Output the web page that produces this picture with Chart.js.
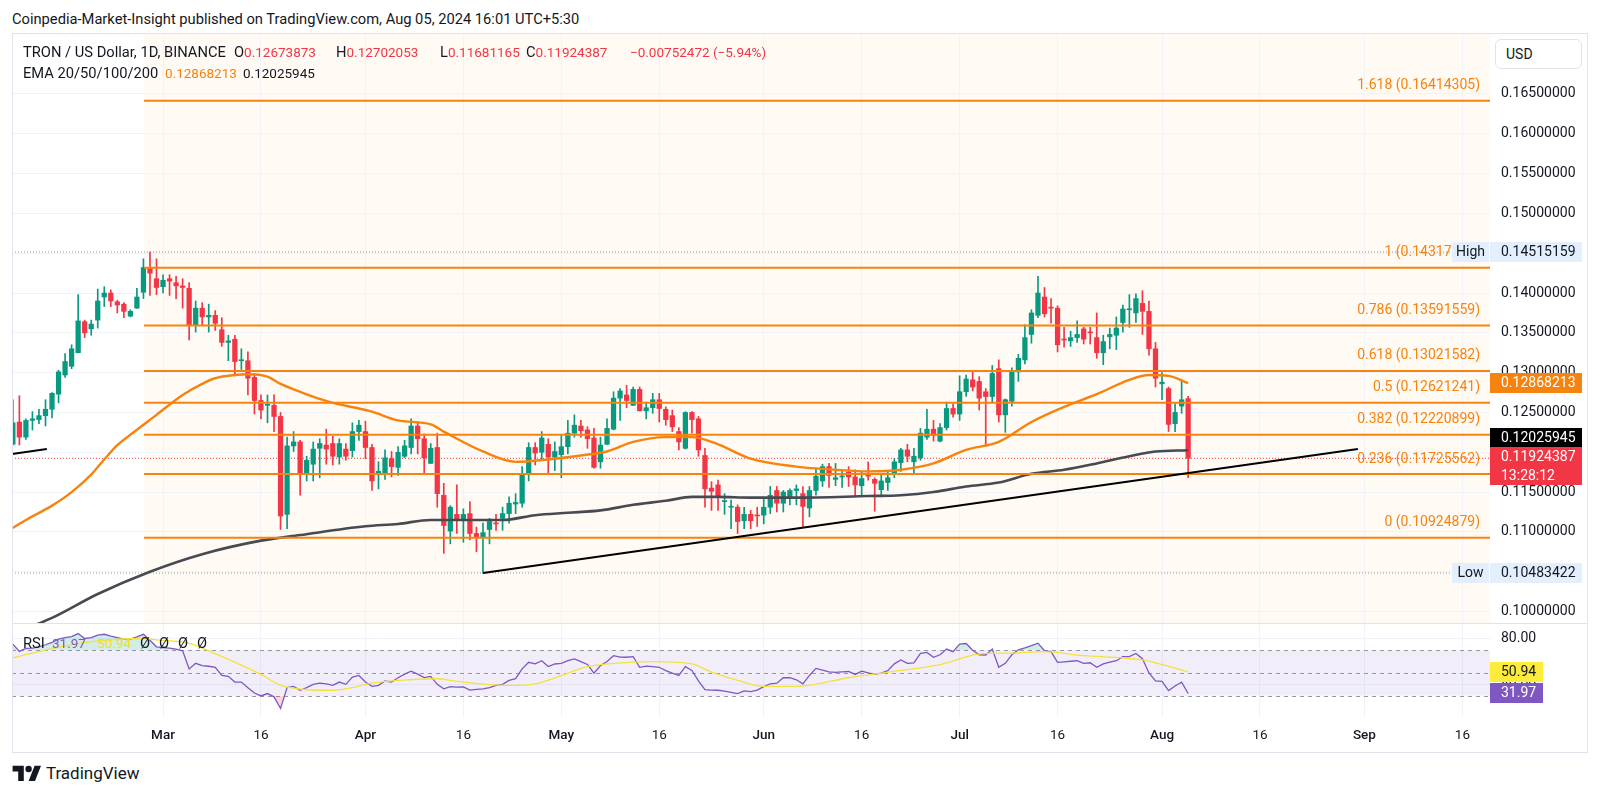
<!DOCTYPE html>
<html>
<head>
<meta charset="utf-8">
<script src="https://cdn.jsdelivr.net/npm/chart.js@4.4.1/dist/chart.umd.min.js"></script>
<style>
  body { margin: 0; width: 1600px; height: 795px; background: #fff; position: relative; overflow: hidden;
         font-family: Roboto, "Noto Sans", sans-serif; color: #131722; }
  .t { position: absolute; white-space: nowrap; line-height: 16px; font-size: 14.7px; z-index: 6; }
  .n { font-size: 13.5px; }
  #frame { position: absolute; left: 12px; top: 33px; width: 1576px; height: 720px; box-sizing: border-box;
           border: 1px solid #e0e3eb; pointer-events: none; z-index: 5; }
  #sep { position: absolute; left: 12px; top: 623px; width: 1576px; height: 1px; background: #e0e3eb; z-index: 5; }
  #priceCv { position: absolute; left: 12px; top: 34px; }
  #rsiCv { position: absolute; left: 12px; top: 624px; }
  .red { color: #f23645; }
  .org { color: #f7830f; }
  #usd { position: absolute; left: 1495px; top: 39px; width: 87px; height: 30px; box-sizing: border-box;
         border: 1px solid #e0e3eb; border-radius: 6px; background: #fff; font-size: 14px; line-height: 28px;
         padding-left: 10px; z-index: 6; }
</style>
</head>
<body>
<div class="t" style="left:12px;top:11px;">Coinpedia-Market-Insight published on TradingView.com, Aug 05, 2024 16:01 UTC+5:30</div>
<canvas id="priceCv" width="1575" height="589"></canvas>
<canvas id="rsiCv" width="1575" height="128"></canvas>
<div id="frame"></div>
<div id="sep"></div>
<div id="usd">USD</div>
<div class="t" style="left:23px;top:44px;">TRON / US Dollar, 1D, BINANCE</div>
<div class="t" style="left:234px;top:44px;">O<span class="red n">0.12673873</span></div>
<div class="t" style="left:336px;top:44px;">H<span class="red n">0.12702053</span></div>
<div class="t" style="left:440px;top:44px;">L<span class="red n">0.11681165</span></div>
<div class="t" style="left:526px;top:44px;">C<span class="red n">0.11924387</span></div>
<div class="t red n" style="left:630px;top:44px;">−0.00752472 (−5.94%)</div>
<div class="t" style="left:23px;top:65px;">EMA 20/50/100/200</div>
<div class="t org n" style="left:165px;top:65px;">0.12868213</div>
<div class="t n" style="left:243px;top:65px;">0.12025945</div>
<div class="t" style="left:23px;top:635px;">RSI</div>
<div class="t n" style="left:52px;top:635px;color:#7e57c2">31.97</div>
<div class="t n" style="left:97px;top:635px;color:#f2dc2e">50.94</div>
<div class="t" style="left:140px;top:635px;">Ø</div>
<div class="t" style="left:159px;top:635px;">Ø</div>
<div class="t" style="left:178px;top:635px;">Ø</div>
<div class="t" style="left:197px;top:635px;">Ø</div>
<div class="t" style="left:12px;top:764px;font-size:17px;line-height:18px;">
  <svg width="30" height="16" viewBox="0 0 36 20" style="vertical-align:-2px"><path d="M14 20H7V8H0V1h14v19zM28 20h-8l7.5-19h8L28 20z" fill="#131722"/><circle cx="20" cy="5" r="4" fill="#131722"/></svg>
  TradingView</div>

<script>
// candles, one per day; day 0 = Mar 1, first candle Feb 7
const startDay = -23;
const opens = [0.1210,0.1238,0.1219,0.1240,0.1241,0.1246,0.1254,0.1273,0.1297,0.1308,0.1325,0.1364,0.1355,0.1366,0.1395,0.1400,0.1389,0.1386,0.1371,0.1381,0.1401,0.1432,0.1418,
  0.1408,0.1418,0.1413,0.1409,0.1406,0.1360,0.1381,0.1370,0.1372,0.1354,0.1338,0.1342,0.1315,0.1315,0.1294,0.1265,0.1259,0.1259,0.1245,0.1122,0.1208,0.1213,0.1173,0.1185,0.1205,0.1209,0.1211,0.1194,0.1204,0.1202,0.1226,
  0.1226,0.1206,0.1174,0.1174,0.1192,0.1181,0.1195,0.1206,0.1233,0.1217,0.1186,0.1206,0.1146,0.1101,0.1122,0.1115,0.1123,0.1098,0.1093,0.1103,0.1111,0.1117,0.1123,0.1135,0.1136,0.1174,0.1206,0.1200,0.1210,0.1194,
  0.1197,0.1207,0.1224,0.1233,0.1228,0.1218,0.1188,0.1210,0.1229,0.1268,0.1272,0.1259,0.1279,0.1252,0.1256,0.1266,0.1254,0.1246,0.1226,0.1205,0.1250,0.1242,0.1196,0.1155,0.1159,0.1138,0.1131,0.1131,0.1114,0.1122,0.1121,
  0.1121,0.1131,0.1152,0.1136,0.1144,0.1152,0.1148,0.1130,0.1152,0.1164,0.1182,0.1166,0.1169,0.1175,0.1169,0.1158,0.1173,0.1166,0.1153,0.1162,0.1173,0.1187,0.1203,0.1188,0.1193,0.1219,0.1229,0.1214,0.1231,0.1255,
  0.1248,0.1276,0.1291,0.1289,0.1276,0.1270,0.1305,0.1247,0.1264,0.1301,0.1316,0.1348,0.1372,0.1395,0.1382,0.1381,0.1342,0.1340,0.1344,0.1355,0.1351,0.1344,0.1325,0.1345,0.1347,0.1363,0.1379,0.1375,0.1387,0.1377,0.1330,
  0.1286,0.1280,0.1236,0.1258,0.12673873];
const highs = [0.1266,0.1271,0.1242,0.1251,0.1254,0.1266,0.1275,0.1303,0.1324,0.1335,0.1398,0.1366,0.1366,0.1405,0.1408,0.1404,0.1391,0.1388,0.1379,0.1406,0.1443,0.14515,0.1443,
  0.1423,0.1423,0.1421,0.1418,0.1413,0.1390,0.1388,0.1386,0.1378,0.1369,0.1347,0.1347,0.1330,0.1326,0.1299,0.1272,0.1272,0.1272,0.1250,0.1219,0.1226,0.1215,0.1195,0.1213,0.1217,0.1229,0.1220,0.1217,0.1211,0.1237,0.1240,
  0.1239,0.1210,0.1188,0.1203,0.1201,0.1207,0.1215,0.1242,0.1237,0.1223,0.1211,0.1224,0.1161,0.1133,0.1159,0.1129,0.1138,0.1106,0.1111,0.1117,0.1122,0.1131,0.1144,0.1148,0.1182,0.1212,0.1212,0.1226,0.1217,0.1213,
  0.1221,0.1240,0.1247,0.1240,0.1232,0.1230,0.1219,0.1242,0.1276,0.1280,0.1284,0.1282,0.1282,0.1263,0.1274,0.1274,0.1257,0.1253,0.1231,0.1251,0.1251,0.1245,0.1205,0.1163,0.1165,0.1148,0.1140,0.1134,0.1131,0.1127,0.1131,
  0.1142,0.1157,0.1157,0.1152,0.1154,0.1159,0.1157,0.1157,0.1180,0.1185,0.1186,0.1186,0.1178,0.1182,0.1178,0.1175,0.1188,0.1168,0.1173,0.1177,0.1192,0.1205,0.1210,0.1205,0.1230,0.1254,0.1240,0.1236,0.1263,0.1261,
  0.1296,0.1297,0.1303,0.1295,0.1280,0.1309,0.1316,0.1267,0.1306,0.1323,0.1360,0.1379,0.1421,0.1407,0.1393,0.1384,0.1357,0.1352,0.1365,0.1357,0.1357,0.1375,0.1347,0.1356,0.1370,0.1385,0.1398,0.1399,0.1403,0.1390,0.1338,
  0.1300,0.1282,0.1261,0.1291,0.12702053];
const lows = [0.1209,0.1209,0.1216,0.1228,0.1236,0.1233,0.1243,0.1262,0.1294,0.1305,0.1325,0.1344,0.1347,0.1356,0.1383,0.1383,0.1375,0.1369,0.1370,0.1381,0.1393,0.1397,0.1398,
  0.1400,0.1397,0.1393,0.1381,0.1341,0.1351,0.1360,0.1351,0.1353,0.1333,0.1315,0.1296,0.1304,0.1272,0.1248,0.1242,0.1237,0.1226,0.1103,0.1104,0.1201,0.1146,0.1164,0.1164,0.1168,0.1185,0.1184,0.1185,0.1190,0.1194,0.1215,
  0.1192,0.1152,0.1154,0.1166,0.1169,0.1171,0.1193,0.1198,0.1198,0.1174,0.1186,0.1131,0.1073,0.1085,0.1098,0.1087,0.1090,0.1075,0.10483,0.1085,0.1102,0.1102,0.1111,0.1123,0.1131,0.1164,0.1184,0.1190,0.1174,0.1177,
  0.1168,0.1198,0.1219,0.1219,0.1205,0.1180,0.1180,0.1210,0.1228,0.1240,0.1256,0.1259,0.1252,0.1242,0.1249,0.1238,0.1234,0.1226,0.1203,0.1204,0.1224,0.1195,0.1131,0.1127,0.1127,0.1122,0.1104,0.1098,0.1104,0.1104,0.1107,
  0.1110,0.1123,0.1125,0.1125,0.1134,0.1134,0.1106,0.1119,0.1146,0.1157,0.1156,0.1158,0.1156,0.1157,0.1144,0.1145,0.1165,0.1126,0.1144,0.1152,0.1168,0.1176,0.1188,0.1173,0.1190,0.1216,0.1214,0.1213,0.1228,0.1244,
  0.1240,0.1270,0.1277,0.1253,0.1209,0.1262,0.1238,0.1225,0.1258,0.1289,0.1311,0.1337,0.1369,0.1370,0.1362,0.1326,0.1332,0.1333,0.1338,0.1336,0.1336,0.1318,0.1310,0.1330,0.1329,0.1351,0.1357,0.1363,0.1348,0.1322,0.1282,
  0.1266,0.1226,0.1226,0.1249,0.11681165];
const closes = [0.1237,0.1219,0.1240,0.1242,0.1246,0.1254,0.1274,0.1301,0.1314,0.1330,0.1365,0.1350,0.1361,0.1390,0.1400,0.1390,0.1385,0.1377,0.1377,0.1395,0.1432,0.1425,0.1407,
  0.1416,0.1415,0.1409,0.1407,0.1359,0.1381,0.1370,0.1372,0.1362,0.1338,0.1340,0.1314,0.1316,0.1293,0.1265,0.1253,0.1260,0.1245,0.1120,0.1208,0.1213,0.1173,0.1190,0.1204,0.1211,0.1204,0.1195,0.1211,0.1195,0.1226,0.1234,
  0.1206,0.1164,0.1176,0.1193,0.1182,0.1200,0.1208,0.1233,0.1217,0.1193,0.1205,0.1148,0.1108,0.1131,0.1115,0.1122,0.1098,0.1093,0.1099,0.1113,0.1110,0.1123,0.1136,0.1137,0.1173,0.1206,0.1199,0.1218,0.1194,0.1201,
  0.1207,0.1224,0.1234,0.1227,0.1217,0.1181,0.1209,0.1230,0.1268,0.1277,0.1265,0.1279,0.1252,0.1256,0.1266,0.1255,0.1241,0.1232,0.1213,0.1250,0.1241,0.1203,0.1154,0.1151,0.1143,0.1139,0.1132,0.1113,0.1122,0.1114,0.1120,
  0.1131,0.1146,0.1136,0.1150,0.1152,0.1154,0.1132,0.1152,0.1170,0.1182,0.1171,0.1168,0.1170,0.1169,0.1159,0.1167,0.1170,0.1161,0.1164,0.1168,0.1188,0.1203,0.1195,0.1195,0.1224,0.1229,0.1221,0.1231,0.1255,0.1248,
  0.1276,0.1292,0.1282,0.1268,0.1270,0.1299,0.1247,0.1266,0.1301,0.1318,0.1344,0.1375,0.1400,0.1374,0.1381,0.1335,0.1341,0.1344,0.1348,0.1342,0.1350,0.1325,0.1339,0.1348,0.1356,0.1380,0.1380,0.1393,0.1377,0.1330,0.1293,
  0.1288,0.1235,0.1250,0.1266,0.11924387];

// EMA lines (day, price)
const ema50Days = [-23,-21,-17,-14,-11,-9,-7,-5,-1,3,6,8,11,13,16,18,21,24,26,30,32,36,41,43,49,54,59,64,68,72,77,81,85,90,97,103,108,113,118,123,128,133,138,143,148,151,154,157];
const ema50 = [0.1105,0.1115,0.1133,0.1150,0.1172,0.1191,0.1209,0.1222,0.1247,0.1272,0.1286,0.1293,0.1297,0.1298,0.1295,0.1286,0.1276,0.1267,0.1262,0.1255,0.1251,0.1240,0.1235,0.1226,0.1201,0.1188,0.1191,0.1196,0.1201,0.1213,0.1219,0.1219,0.1210,0.1192,0.1182,0.1178,0.1176,0.1178,0.1186,0.1203,0.1213,0.1238,0.1257,0.1273,0.1291,0.1297,0.1296,0.12868213];
const ema200Days = [-23,-17,-10,-2,6,15,21,31,36,41,47,52,57,62,67,72,77,81,85,90,97,108,113,118,123,128,133,138,143,148,152,157];
const ema200 = [0.0972,0.0992,0.1022,0.1050,0.1072,0.1089,0.1096,0.1107,0.1110,0.1115,0.1115,0.1115,0.1121,0.1124,0.1127,0.1134,0.1139,0.1144,0.1144,0.1143,0.1143,0.1145,0.1146,0.1150,0.1157,0.1162,0.1173,0.1178,0.1186,0.1195,0.1201,0.12025945];

// fibonacci retracement
const fibRatios = ['1.618','1','0.786','0.618','0.5','0.382','0.236','0'];
const fibPrices = [0.16414305,0.14317602,0.13591559,0.13021582,0.12621241,0.12220899,0.11725562,0.10924879];
const fibStartDay = -2.9;

// trend lines (day, price)
const trendA = [[49, 0.10483], [183, 0.1204]];
const trendB = [[-23.2, 0.11977], [-17.8, 0.1204]];

const periodHigh = 0.14515159, periodLow = 0.10483422, lastPrice = 0.11924387;
const emaLast = [0.12868213, 0.12025945];

// RSI (daily) and its moving average
const rsi = [75.3,69.0,71.6,71.9,73.0,74.8,76.8,79.7,81.1,82.0,84.6,80.3,81.1,83.2,84.0,82.3,81.1,79.7,79.7,81.7,84.0,78.8,73.0,
  72.4,71.9,71.0,69.5,53.6,58.5,56.5,55.9,55.0,47.8,47.0,42.0,42.0,37.1,32.4,29.8,31.9,29.0,18.8,37.1,38.2,34.8,37.1,40.0,41.1,40.5,39.1,42.0,40.0,46.3,47.8,
  42.0,38.2,39.1,42.9,42.0,45.8,49,51.6,49,46,47,40,36,38,37.5,37.7,35,35.5,36,37.1,39,40,43.5,45,53.6,59.4,58,60.8,55.6,57.9,
  58.5,60.8,62.3,60,57.5,49.8,56.5,60,65.2,64,63.8,64.3,55,56,55.5,55,52,49.8,47.8,55.6,52.2,43,35.3,35,34.8,34,33,31.9,34.2,33.6,35,
  38,40.5,41,45.8,45.8,44,40.5,47.8,54,52.5,51,50.5,51,51.3,48.7,51.6,50,48.7,49.8,52,58,61.4,58.5,58.8,67.2,68.1,63.7,66,71,68.7,
  75.3,75.9,70,66,65.8,71,55,58.5,66,70.4,72,74,76.2,69.5,68.7,59.4,59.8,60.3,60.8,58.5,59,55,57.9,59.5,60.8,64.3,64.3,67.2,62.5,50,43,
  42.6,34.5,38.5,42,31.97];
const rsiMaDays = [-23,-15,-10,-3,-1,4,7,11,15,18,21,24,26,29,31,36,42,45,53,57,61,65,69,75,81,84,88,92,97,105,113,119,125,130,135,141,147,150,153,157];
const rsiMa = [63.2,73.9,78.2,80.3,79.1,76.1,69.5,59.4,48.7,39.1,35.9,34.8,34.8,37.1,40,43.5,44.9,42.6,39.1,40.5,47.8,55.6,58.5,60,57.9,50.7,43.5,38.2,38.2,45.8,52.2,57.4,66.6,67.5,68.7,65.2,63.2,61.5,57.4,50.94];

// axes
const tickDays = [0,15,31,46,61,76,92,107,122,137,153,168,184,199];
const tickLabels = ['Mar','16','Apr','16','May','16','Jun','16','Jul','16','Aug','16','Sep','16'];
const priceTicks = [0.100,0.105,0.110,0.115,0.120,0.125,0.130,0.135,0.140,0.145,0.150,0.155,0.160,0.165];
const hiddenPriceTicks = [0.105,0.120,0.145];
const xMin = -23.13, xMax = 203.23;
const hiLoLineEnd = 197.5;

const GREEN = '#089981', RED = '#f23645', ORANGE = '#f7830f', GRID = '#f0f3fa', FONT = 'Roboto';

const days = opens.map((_, i) => startDay + i);
const isUp = i => closes[i] >= opens[i];
const candleColor = ctx => isUp(ctx.dataIndex) ? GREEN : RED;
const pts = (xs, ys) => xs.map((x, i) => ({x, y: ys[i]}));

const xScale = (showLabels) => ({
  type: 'linear', min: xMin, max: xMax, offset: false,
  afterBuildTicks: s => { s.ticks = tickDays.map(v => ({value: v})); },
  ticks: {
    display: showLabels, autoSkip: false, maxRotation: 0, padding: 11, color: '#131722',
    font: ctx => ({family: FONT, size: 13.5, weight: /^[A-Z]/.test(tickLabels[ctx.index] || '') ? '500' : 'normal'}),
    callback: (v, i) => tickLabels[i]
  },
  grid: {color: GRID, drawTicks: false, offset: false},
  border: {display: false},
  afterFit: s => { s.height = showLabels ? 35 : 0; s.paddingLeft = 0; s.paddingRight = 0; }
});

const line = (data, color, width, order, dash) => ({
  type: 'line', data, borderColor: color, borderWidth: width, pointRadius: 0, order,
  borderDash: dash || [], tension: 0, fill: false
});

const fibSets = fibPrices.map(p => line([{x: fibStartDay, y: p}, {x: xMax, y: p}], ORANGE, 2, 3));

function box(ctx, x, y, w, h, bg, lines, color) {
  ctx.fillStyle = bg;
  ctx.fillRect(x, y, w, h);
  ctx.fillStyle = color;
  ctx.textAlign = 'left';
  ctx.textBaseline = 'middle';
  ctx.font = '14px ' + FONT;
  const lh = h / lines.length;
  lines.forEach((t, i) => ctx.fillText(t, x + 11, y + lh * i + lh / 2 + 0.5));
}

const priceOverlay = {
  id: 'priceOverlay',
  beforeDraw(chart) {
    const {ctx, chartArea: a, scales: {x}} = chart;
    const x0 = x.getPixelForValue(fibStartDay);
    ctx.save();
    ctx.fillStyle = '#fffaf3';
    ctx.fillRect(x0, a.top, a.right - x0, a.bottom - a.top);
    ctx.restore();
  },
  afterDraw(chart) {
    const {ctx, chartArea: a, scales: {y}} = chart;
    ctx.save();
    // fib labels
    ctx.font = '14px ' + FONT;
    ctx.fillStyle = ORANGE;
    ctx.textAlign = 'right';
    ctx.textBaseline = 'middle';
    fibPrices.forEach((p, i) => {
      ctx.fillText(fibRatios[i] + ' (' + p.toFixed(8) + ')', a.right - 10, y.getPixelForValue(p) - 15);
    });
    const ax = a.right, w = 92;
    // High / Low tags
    [[periodHigh, 'High'], [periodLow, 'Low']].forEach(([p, t]) => {
      const py = Math.round(y.getPixelForValue(p));
      ctx.fillStyle = '#e3effd';
      ctx.fillRect(ax - 38, py - 10, 37, 20);
      ctx.fillStyle = '#131722';
      ctx.textAlign = 'center';
      ctx.textBaseline = 'middle';
      ctx.font = '14px ' + FONT;
      ctx.fillText(t, ax - 19.5, py + 0.5);
      box(ctx, ax, py - 10, w, 20, '#e3effd', [p.toFixed(8)], '#131722');
    });
    // price scale tags
    const yo = Math.round(y.getPixelForValue(emaLast[0]));
    box(ctx, ax, yo - 10, w, 20, ORANGE, [emaLast[0].toFixed(8)], '#fff');
    const yl = Math.round(y.getPixelForValue(lastPrice));
    box(ctx, ax, yl - 11, w, 38, RED, [lastPrice.toFixed(8), '13:28:12'], '#fff');
    box(ctx, ax, yl - 30, w, 19, '#000', [emaLast[1].toFixed(8)], '#fff');
    ctx.restore();
  }
};

new Chart(document.getElementById('priceCv'), {
  type: 'bar',
  data: {
    datasets: [
      ...fibSets,
      line([{x: xMin, y: periodHigh}, {x: hiLoLineEnd, y: periodHigh}], '#9598a1', 1, 9, [1, 2]),
      line([{x: xMin, y: periodLow}, {x: hiLoLineEnd, y: periodLow}], '#9598a1', 1, 9, [1, 2]),
      line([{x: xMin, y: lastPrice}, {x: xMax, y: lastPrice}], RED, 1, 9, [1, 2]),
      {type: 'bar', data: days.map((d, i) => ({x: d, y: [lows[i], highs[i]]})), backgroundColor: candleColor,
       barThickness: 1, grouped: false, order: 7},
      {type: 'bar', data: days.map((d, i) => ({x: d, y: [opens[i], closes[i]]})), backgroundColor: candleColor,
       barThickness: 4.6, minBarLength: 1, grouped: false, order: 6},
      {...line(pts(ema200Days, ema200), '#474a52', 2.6, 5), cubicInterpolationMode: 'monotone'},
      {...line(pts(ema50Days, ema50), ORANGE, 2.4, 4), cubicInterpolationMode: 'monotone'},
      line(trendA.map(([x, y]) => ({x, y})), '#000', 2, 1),
      line(trendB.map(([x, y]) => ({x, y})), '#000', 2, 1)
    ]
  },
  options: {
    responsive: false, animation: false, devicePixelRatio: 1,
    layout: {padding: 0},
    plugins: {legend: {display: false}, tooltip: {enabled: false}},
    scales: {
      x: xScale(false),
      y: {
        type: 'linear', position: 'right', min: 0.098556, max: 0.172536,
        afterBuildTicks: s => { s.ticks = priceTicks.map(v => ({value: v})); },
        ticks: {
          autoSkip: false, padding: 11, color: '#131722', font: {family: FONT, size: 14},
          callback: v => hiddenPriceTicks.some(h => Math.abs(h - v) < 1e-9) ? '' : v.toFixed(8)
        },
        grid: {color: GRID, drawTicks: false},
        border: {display: false},
        afterFit: s => { s.width = 97; s.paddingTop = 0; s.paddingBottom = 0; }
      }
    }
  },
  plugins: [priceOverlay]
});

const rsiOverlay = {
  id: 'rsiOverlay',
  beforeDatasetsDraw(chart) {
    const {ctx, chartArea: a, scales: {y}} = chart;
    ctx.save();
    ctx.fillStyle = 'rgba(126,87,194,0.1)';
    const y70 = y.getPixelForValue(70), y30 = y.getPixelForValue(30);
    ctx.fillRect(a.left, y70, a.right - a.left, y30 - y70);
    ctx.strokeStyle = '#9598a1';
    ctx.lineWidth = 1;
    ctx.setLineDash([4, 4]);
    [70, 50, 30].forEach(v => {
      const py = Math.round(y.getPixelForValue(v)) + 0.5;
      ctx.beginPath(); ctx.moveTo(a.left, py); ctx.lineTo(a.right, py); ctx.stroke();
    });
    ctx.restore();
  },
  afterDraw(chart) {
    const {ctx, chartArea: a, scales: {y}} = chart;
    ctx.save();
    const ym = Math.round(y.getPixelForValue(rsiMa[rsiMa.length - 1]));
    box(ctx, a.right, ym - 10, 53, 20, '#ffeb3b', [rsiMa[rsiMa.length - 1].toFixed(2)], '#131722');
    const yr = Math.round(y.getPixelForValue(rsi[rsi.length - 1]));
    box(ctx, a.right, yr - 10, 53, 20, '#7e57c2', [rsi[rsi.length - 1].toFixed(2)], '#fff');
    ctx.restore();
  }
};

new Chart(document.getElementById('rsiCv'), {
  type: 'line',
  data: {
    datasets: [
      {data: pts(days, rsi), borderColor: '#7e57c2', borderWidth: 1.3, pointRadius: 0, order: 2,
       fill: {target: {value: 70}, above: 'rgba(8,153,129,0.18)', below: 'transparent'}},
      {data: pts(days, rsi), borderWidth: 0, pointRadius: 0, order: 3,
       fill: {target: {value: 30}, above: 'transparent', below: 'rgba(242,54,69,0.2)'}},
      {data: pts(rsiMaDays, rsiMa), borderColor: '#f5e13b', borderWidth: 1.3, pointRadius: 0, order: 1,
       cubicInterpolationMode: 'monotone', fill: false}
    ]
  },
  options: {
    responsive: false, animation: false, devicePixelRatio: 1,
    layout: {padding: 0},
    plugins: {legend: {display: false}, tooltip: {enabled: false}},
    scales: {
      x: xScale(true),
      y: {
        type: 'linear', position: 'right', min: 11.30, max: 93.04,
        afterBuildTicks: s => { s.ticks = [{value: 80}, {value: 40}]; },
        ticks: {padding: 11, color: '#131722', font: {family: FONT, size: 14}, callback: v => v.toFixed(2)},
        grid: {color: GRID, drawTicks: false},
        border: {display: false},
        afterFit: s => { s.width = 97; s.paddingTop = 0; s.paddingBottom = 0; }
      }
    }
  },
  plugins: [rsiOverlay]
});
</script>
</body>
</html>
